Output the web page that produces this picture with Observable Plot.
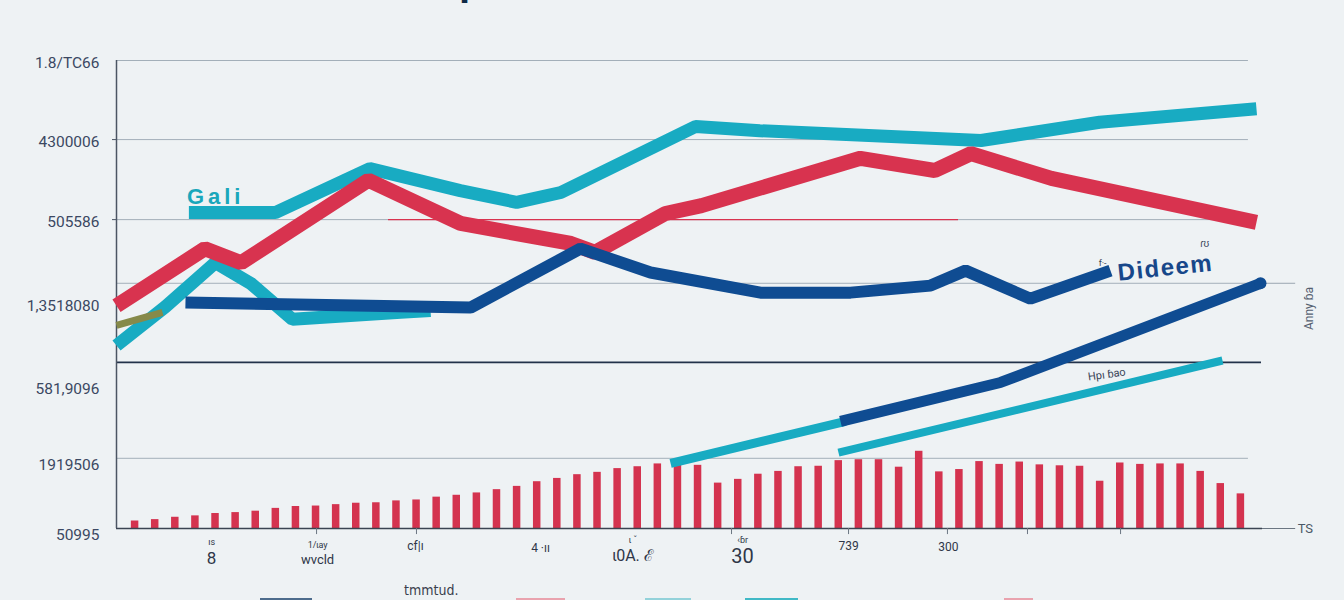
<!DOCTYPE html>
<html><head><meta charset="utf-8">
<script src="https://cdn.jsdelivr.net/npm/d3@7"></script>
<script src="https://cdn.jsdelivr.net/npm/@observablehq/plot@0.6"></script>
<style>
html,body{margin:0;padding:0;background:#eef2f4;}
#wrap{position:relative;width:1344px;height:600px;overflow:hidden;background:#eef2f4;}
#title{position:absolute;left:330px;top:-39px;font:bold 40px "Liberation Sans",Arial,sans-serif;line-height:40px;color:#0e2a47;white-space:nowrap;}
#chart{position:absolute;left:0;top:0;}
#legend{position:absolute;left:0;top:580px;width:1344px;height:20px;}
.sw{position:absolute;top:18px;height:6px;}
#legtitle{position:absolute;left:404px;top:2px;font:14px "DejaVu Sans Condensed","DejaVu Sans",sans-serif;color:#3a3f4d;}
.gali text{letter-spacing:4px;}
.dideem text{letter-spacing:1.5px;}
</style></head>
<body>
<div id="wrap">
  <div id="chart"></div>
  <div id="title">The Impact of Donors Across Decades</div>
  <div id="legend"></div>
</div>
<script>
// ---------------- data ----------------
const barValues = [1.6, 1.9, 2.4, 2.7, 3.2, 3.4, 3.7, 4.3, 4.7, 4.8, 5.1, 5.4, 5.5, 5.9, 6.1, 6.7, 7.1, 7.6, 8.3, 9.0,
  10.0, 10.7, 11.5, 12.0, 12.8, 13.2, 13.8, 14.1, 13.5, 9.7, 10.5, 11.6, 12.2, 13.2, 13.3, 14.5, 14.7, 14.7, 13.1, 16.5,
  12.1, 12.6, 14.3, 13.7, 14.2, 13.6, 13.4, 13.3, 10.1, 14.0, 13.7, 13.8, 13.8, 12.2, 9.6, 7.4];

const tealUpperT = [2.7, 7.0, 11.7, 16.2, 19.0, 21.2, 27.9, 31.1, 42.1, 48.0, 55.8];
const tealUpperV = [67.5, 67.5, 76.9, 72.2, 69.7, 71.8, 85.9, 85.0, 82.9, 86.8, 89.7];

const tealLeftT = [-0.9, 1.54, 4.02, 5.77, 7.85, 13.23, 14.72];
const tealLeftV = [39.1, 47.4, 56.8, 52.4, 44.7, 46.2, 46.6];

const blendT = [-0.9, 1.39];
const blendV = [43.4, 46.2];

const redT = [-0.9, 3.5, 5.3, 11.63, 16.21, 21.7, 22.9, 26.4, 28.2, 36.1, 39.8, 41.6, 45.6, 55.8];
const redV = [47.6, 59.8, 56.8, 74.4, 65.2, 60.9, 59.0, 67.3, 69.0, 79.1, 76.5, 80.1, 74.8, 65.4];

const navyUpperT = [2.53, 16.71, 22.18, 25.66, 31.13, 35.61, 39.59, 41.33, 44.56, 48.54];
const navyUpperV = [48.3, 47.2, 59.8, 54.7, 50.4, 50.4, 51.9, 55.1, 49.1, 55.1];

const tealLower1T = [26.66, 35.36];
const tealLower1V = [13.9, 22.9];

const navyLowerT = [35.11, 43.07, 56.0];
const navyLowerV = [22.9, 31.2, 52.4];

const tealLower2T = [35.01, 54.11];
const tealLower2V = [16.2, 35.9];

const gridValues = [100, 83.1, 66.0, 52.4, 15.0];
const darkGridValue = 35.5;

const yTickValues = [99.4, 82.5, 65.4, 47.6, 29.9, 13.5, -1.5];
const yTickLabels = ["1.8/TC66", "4300006", "505586", "1,3518080", "581,9096", "1919506", "50995"];

const xTickPos = [3.83, 9.1, 13.97, 20.19, 24.8, 30.24, 35.51, 40.48];
const xTickLabels = ["8", "wvcld", "cf|ı", "4 ·ıı", "ɩ0A. ℰ", "30", "739", "300"];
const xTickSub = ["ıs", "1/ɩay", "", "", "ɩ ˇ", "‹ɓr", "", ""];
const xTickMarks = [9.05, 14.02, 29.69, 35.51, 40.43, 44.41, 49.04];

const seriesNames = {teal: "Gali", navy: "Dideem"};
const notes = [
  {t: 47.45, v: 31.6, text: "Hpı ɓao", rotate: -8, size: 11},
  {t: 53.0, v: 60.1, text: "ɾʊ", rotate: 0, size: 10},
  {t: 47.95, v: 56.0, text: "f·-", rotate: 0, size: 9}
];
const sideNote = {t: 58.44, v: 47.0, text: "Anny ɓa"};
const axisEndLabel = "TS";
const legendTitle = "tmmtud.";

// ---------------- build ----------------
const pts = (T, V) => T.map((t, i) => ({t, v: V[i]}));
const bars = barValues.map((v, i) => ({t: i, v}));
const tealUpper = pts(tealUpperT, tealUpperV);
const tealLeft = pts(tealLeftT, tealLeftV);
const blend = pts(blendT, blendV);
const red = pts(redT, redV);
const navyUpper = pts(navyUpperT, navyUpperV);
const tealLower1 = pts(tealLower1T, tealLower1V);
const navyLower = pts(navyLowerT, navyLowerV);
const tealLower2 = pts(tealLower2T, tealLower2V);

const TEAL = "#18abc2", RED = "#d8334f", NAVY = "#0f4c92", BAR = "#d4334f";
const xDomain = [-0.9, 56.1];
const lineOpts = (color, w) => ({x: "t", y: "v", stroke: color, strokeWidth: w, strokeLinejoin: "miter", strokeLinecap: "butt"});
const tickMap = new Map(yTickValues.map((d, i) => [d, yTickLabels[i]]));

// layout of the x labels (centre offsets below the baseline, sizes)
const rowDy = [30, 31, 18, 20, 27, 28, 18, 19];
const rowSize = [17, 13, 12, 12, 16, 20, 12, 12];
const subDy = [14, 17, 0, 0, 12, 12, 0, 0];

const marks = [
  Plot.ruleY(gridValues, {x1: xDomain[0], x2: 55.4, stroke: "#a3afb9", strokeWidth: 1}),
  Plot.ruleY([darkGridValue], {x1: xDomain[0], x2: 56.05, stroke: "#22324a", strokeWidth: 1.6}),
  Plot.ruleY([52.4], {x1: 56.2, x2: 57.75, stroke: "#9aa6b0", strokeWidth: 1}),
  Plot.ruleY([66.0], {x1: 12.63, x2: 40.98, stroke: RED, strokeWidth: 1.2}),
  Plot.ruleX(bars, {x: "t", y1: 0, y2: "v", stroke: BAR, strokeWidth: 7.5}),
  Plot.ruleY([0], {x1: xDomain[0], x2: xDomain[1], stroke: "#3b4452", strokeWidth: 1.5}),
  Plot.ruleY([0], {x1: xDomain[1], x2: 57.75, stroke: "#6b7682", strokeWidth: 1}),
  Plot.ruleX(xTickMarks, {y1: 0, y2: -1.3, stroke: "#6b7682", strokeWidth: 1}),
  Plot.ruleX([xDomain[0]], {y1: 0, y2: 100, stroke: "#4b5563", strokeWidth: 1.5}),
  Plot.axisY({ticks: [83.1, 66.0], tickSize: 4, tickFormat: () => "", label: null, stroke: "#4b5563"}),
  Plot.axisY({ticks: yTickValues, tickSize: 0, tickPadding: 17, tickFormat: d => tickMap.get(d), label: null, fontSize: 15.5}),
  Plot.line(tealLeft, lineOpts(TEAL, 13)),
  Plot.line(tealUpper, lineOpts(TEAL, 13)),
  Plot.line(red, lineOpts(RED, 15)),
  Plot.line(blend, lineOpts("#868a4a", 7)),
  Plot.line(navyUpper, lineOpts(NAVY, 12)),
  Plot.line(tealLower1, lineOpts(TEAL, 9)),
  Plot.line(navyLower, lineOpts(NAVY, 11)),
  Plot.dot([navyLower[navyLower.length - 1]], {x: "t", y: "v", r: 6, fill: NAVY}),
  Plot.line(tealLower2, lineOpts(TEAL, 8)),
  Plot.text([tealUpper[0]], {x: "t", y: "v", text: () => seriesNames.teal, textAnchor: "start", lineAnchor: "bottom",
    dx: -2, dy: -9, fontSize: 22, fontWeight: "bold", fontFamily: "Liberation Sans, Arial, sans-serif", fill: "#1aa7bb", className: "gali"}),
  Plot.text([navyUpper[navyUpper.length - 1]], {x: "t", y: "v", text: () => seriesNames.navy, textAnchor: "start", lineAnchor: "bottom",
    dx: 8, dy: 10, rotate: -6, fontSize: 24, fontWeight: "bold", fontFamily: "Liberation Sans, Arial, sans-serif", fill: "#17478a", className: "dideem"}),
  ...notes.map(n => Plot.text([n], {x: "t", y: "v", text: "text", textAnchor: "start", lineAnchor: "bottom", rotate: n.rotate,
    fontSize: n.size, fill: "#3a4558"})),
  Plot.text([sideNote], {x: "t", y: "v", text: "text", rotate: -90, fontSize: 12, fill: "#556070"}),
  Plot.text([57.75], {x: d => d, y: () => 0, text: () => axisEndLabel, textAnchor: "start", dx: 2, fontSize: 13, fill: "#4a5866"}),
  ...xTickLabels.map((lab, i) => Plot.text([xTickPos[i]], {x: d => d, text: () => lab, frameAnchor: "bottom", lineAnchor: "middle",
    dy: rowDy[i], fontSize: rowSize[i], fill: "#2e3748"})),
  ...xTickSub.map((lab, i) => lab ? Plot.text([xTickPos[i]], {x: d => d, text: () => lab, frameAnchor: "bottom", lineAnchor: "middle",
    dy: subDy[i], fontSize: 9, fill: "#2e3748"}) : null).filter(Boolean)
];

const chart = Plot.plot({
  width: 1344, height: 580,
  marginLeft: 116, marginRight: 82, marginTop: 60, marginBottom: 52,
  style: {background: "transparent", color: "#3b4862", fontFamily: "Roboto, sans-serif", fontSize: "15.5px", overflow: "visible"},
  x: {domain: xDomain, axis: null},
  y: {domain: [0, 100], axis: null},
  marks
});
document.getElementById("chart").appendChild(chart);

// legend (cut off at the bottom edge, as in the reference)
const legendColors = ["#4d6c8c", "#e9a3ae", "#93d2da", "#40b9c6", "#e9a3ae"];
const legendLeft = [260, 516, 645, 745, 1004];
const legendWidth = [52, 49, 46, 53, 29];
const leg = d3.select("#legend");
leg.append("div").attr("id", "legtitle").text(legendTitle);
legendColors.forEach((c, i) => {
  leg.append("div").attr("class", "sw").style("left", legendLeft[i] + "px").style("width", legendWidth[i] + "px").style("background", c);
});
</script>
</body></html>
